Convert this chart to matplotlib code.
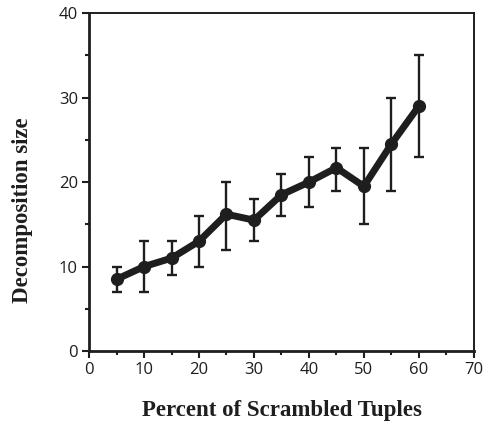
import numpy as np
import matplotlib
matplotlib.use("Agg")
import matplotlib.pyplot as plt
from matplotlib.ticker import MultipleLocator

# Decomposition size vs. percent of scrambled tuples
pct = [5, 10, 15, 20, 25, 30, 35, 40, 45, 50, 55, 60]
size_mean = [8.5, 10.0, 11.0, 13.0, 16.2, 15.5, 18.5, 20.0, 21.7, 19.5, 24.5, 29.0]
size_low = [7.0, 7.0, 9.0, 10.0, 12.0, 13.0, 16.0, 17.0, 19.0, 15.0, 19.0, 23.0]
size_high = [10.0, 13.0, 13.0, 16.0, 20.0, 18.0, 21.0, 23.0, 24.0, 24.0, 30.0, 35.0]

mean = np.array(size_mean)
yerr = [mean - np.array(size_low), np.array(size_high) - mean]

fig = plt.figure(figsize=(4.84, 4.23), dpi=100)
ax = fig.add_axes([0.184, 0.170, 0.795, 0.799])

ink = "#1e1e1e"
ax.errorbar(pct, size_mean, yerr=yerr, fmt="none", ecolor=ink,
            elinewidth=1.7, capsize=3.5, capthick=1.7, zorder=2)
ax.plot(pct, size_mean, color=ink, lw=5, marker="o", ms=8.5,
        solid_joinstyle="round", solid_capstyle="round", zorder=3)

ax.set_xlim(0, 70)
ax.set_ylim(0, 40)
ax.xaxis.set_major_locator(MultipleLocator(10))
ax.xaxis.set_minor_locator(MultipleLocator(5))
ax.yaxis.set_major_locator(MultipleLocator(10))
ax.yaxis.set_minor_locator(MultipleLocator(5))
ax.tick_params(which="both", direction="out", color=ink, width=1.5,
               labelsize=12, labelcolor=ink, pad=3)
ax.tick_params(which="major", length=5)
ax.tick_params(which="minor", length=3)
for lab in ax.get_xticklabels() + ax.get_yticklabels():
    lab.set_family("Open Sans")

for side in ["left", "bottom"]:
    ax.spines[side].set_linewidth(2.0)
    ax.spines[side].set_color(ink)
for side in ["top", "right"]:
    ax.spines[side].set_linewidth(1.4)
    ax.spines[side].set_color(ink)

ax.set_xlabel("Percent of Scrambled Tuples", family="Liberation Serif",
              fontweight="bold", fontsize=16.5, color=ink)
ax.set_ylabel("Decomposition size", family="Liberation Serif",
              fontweight="bold", fontsize=16.5, color=ink)
ax.xaxis.set_label_coords(0.5, -0.175)
ax.yaxis.set_label_coords(-0.174, 0.417)
ax.xaxis.label.set_va("center")
ax.yaxis.label.set_va("center")

fig.savefig("out.png", dpi=100)
